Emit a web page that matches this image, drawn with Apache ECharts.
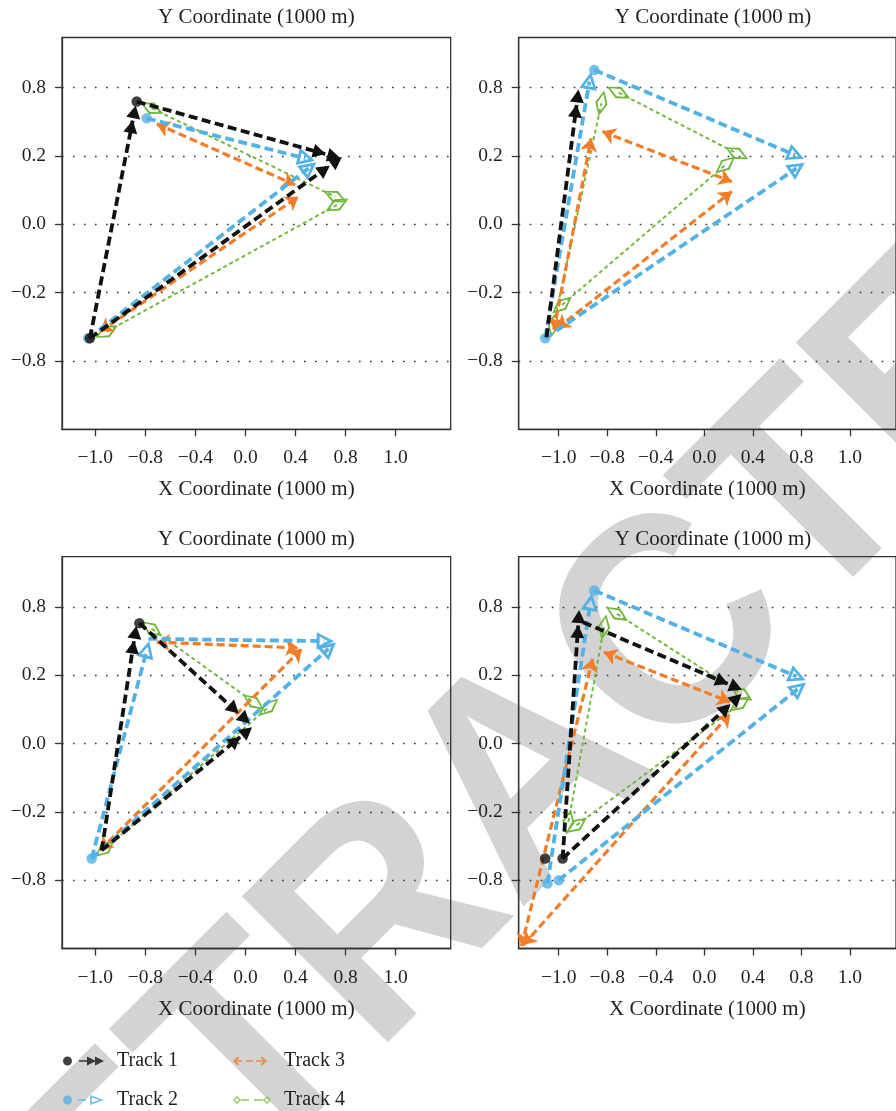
<!DOCTYPE html>
<html><head><meta charset="utf-8">
<script src="https://cdn.jsdelivr.net/npm/echarts@6/dist/echarts.min.js"></script>
<style>html,body{margin:0;padding:0;background:#fff}#c{width:896px;height:1111px}</style>
</head><body><div id="c"></div>
<script>
// ---------- axis ticks ----------
const xTickValues = [-1.2, -0.8, -0.4, 0, 0.4, 0.8, 1.2];
const xTickLabels = ['−1.0', '−0.8', '−0.4', '0.0', '0.4', '0.8', '1.0'];
const yTickValues = [-0.8, -0.4, 0, 0.4, 0.8];
const yTickLabels = ['−0.8', '−0.2', '0.0', '0.2', '0.8'];
const trackNames = ['Track 1', 'Track 2', 'Track 3', 'Track 4'];

// ---------- data: segments [x1, y1, x2, y2] and start dots [x, y] ----------
// Panel 1 (top left)
const p1Track1 = [[-1.243,-0.667,-0.901,0.607],[-0.869,0.719,0.637,0.412],[-1.243,-0.667,0.670,0.342]];
const p1Track1Dots = [[-1.243,-0.667],[-0.869,0.719]];
const p1Track2 = [[-0.789,0.621,0.478,0.387],[-1.256,-0.667,0.504,0.328]];
const p1Track2Dots = [[-0.789,0.621],[-1.256,-0.667]];
const p1Track3 = [[-0.709,0.588,0.397,0.231],[-1.163,-0.628,0.424,0.162]];
const p1Track4 = [[-0.749,0.680,0.717,0.162],[-1.109,-0.628,0.731,0.114]];
// Panel 2 (top right)
const p2Track1 = [[-1.301,-0.661,-1.053,0.699]];
const p2Track1Dots = [];
const p2Track2 = [[-1.312,-0.667,-0.947,0.836],[-0.907,0.904,0.747,0.406],[-1.312,-0.667,0.760,0.328]];
const p2Track2Dots = [[-1.312,-0.667],[-0.907,0.904]];
const p2Track3 = [[-1.240,-0.618,-0.933,0.504],[-0.840,0.543,0.227,0.250],[-1.213,-0.609,0.227,0.192]];
const p2Track4 = [[-1.243,-0.589,-0.848,0.709],[-0.707,0.771,0.267,0.416],[-1.173,-0.472,0.173,0.348]];
// Panel 3 (bottom left)
const p3Track1 = [[-1.149,-0.625,-0.891,0.599],[-0.848,0.705,-0.056,0.178],[-1.149,-0.625,-0.043,0.038]];
const p3Track1Dots = [[-0.848,0.705]];
const p3Track2 = [[-1.229,-0.673,-0.789,0.545],[-0.776,0.613,0.630,0.600],[-1.229,-0.673,0.664,0.555]];
const p3Track2Dots = [[-1.229,-0.673]];
const p3Track3 = [[-0.709,0.594,0.424,0.560],[-1.163,-0.625,0.451,0.555]];
const p3Track4 = [[-0.749,0.672,0.064,0.243],[-1.123,-0.615,0.184,0.213]];
// Panel 4 (bottom right)
const p4Track1 = [[-1.168,-0.673,-1.040,0.691],[-1.000,0.710,0.192,0.350],[-1.168,-0.673,0.213,0.229]];
const p4Track1Dots = [[-1.312,-0.673],[-1.168,-0.673]];
const p4Track2 = [[-1.293,-0.819,-0.939,0.822],[-0.907,0.896,0.760,0.393],[-1.200,-0.800,0.774,0.321]];
const p4Track2Dots = [[-1.293,-0.819],[-1.200,-0.800],[-0.907,0.896]];
const p4Track3 = [[-1.507,-1.186,-0.920,0.496],[-0.827,0.535,0.213,0.243],[-1.493,-1.180,0.213,0.175]];
const p4Track4 = [[-1.120,-0.459,-0.827,0.681],[-0.720,0.759,0.307,0.291],[-1.053,-0.478,0.293,0.233]];

const panels = [
  {t1: p1Track1, d1: p1Track1Dots, t2: p1Track2, d2: p1Track2Dots, t3: p1Track3, t4: p1Track4},
  {t1: p2Track1, d1: p2Track1Dots, t2: p2Track2, d2: p2Track2Dots, t3: p2Track3, t4: p2Track4},
  {t1: p3Track1, d1: p3Track1Dots, t2: p3Track2, d2: p3Track2Dots, t3: p3Track3, t4: p3Track4},
  {t1: p4Track1, d1: p4Track1Dots, t2: p4Track2, d2: p4Track2Dots, t3: p4Track3, t4: p4Track4}
];

// ---------- styles ----------
const FONT = '"Liberation Serif", "Times New Roman", serif';
const TXT = '#231f20';
const AX = '#333333';
const COLORS = ['#111111', '#52b2e6', '#f27d28', '#70b63a'];

const PAD = (s) => `M${-s},${-s}L${-s},${-s}M${s},${s}L${s},${s}`;
const SYM_DOUBLE = 'path://' + PAD(15) + 'M0,-15L6.8,-2.5L-6.8,-2.5ZM0,-0.5L6.8,12L-6.8,12Z';
const SYM_OPENTRI = 'path://' + PAD(10) + 'M0,-9L8,7L-8,7ZM0,-3.2L-4.1,4.3L4.1,4.3Z';
const SYM_DIAMOND = 'path://' + PAD(14) + 'M0,-13L6.3,0L0,13L-6.3,0ZM0,-9.4L-4.1,0L0,9.4L4.1,0Z';

const ICON1 = 'path://M0,0L0,0M42,12L42,12M1,6A4.5,4.5 0 1,0 10,6A4.5,4.5 0 1,0 1,6ZM17,5.2L27,5.2L27,6.8L17,6.8ZM25,1.5L34,6L25,10.5ZM33,1.5L42,6L33,10.5Z';
const ICON2 = 'path://M0,0L0,0M42,12L42,12M1,6A4.5,4.5 0 1,0 10,6A4.5,4.5 0 1,0 1,6ZM16,5.2L24,5.2L24,6.8L16,6.8ZM28,1L42,6L28,11ZM29.8,3.6L29.8,8.4L37,6Z';
const ICON3 = 'path://M0,0L0,0M38,12L38,12M0,6L5,1.5L6.3,2.8L3.1,6L6.3,9.2L5,10.5ZM1.5,5.3L9,5.3L9,6.7L1.5,6.7ZM13,5.3L20,5.3L20,6.7L13,6.7ZM23,5.3L32.5,5.3L32.5,6.7L23,6.7ZM34,6L29,10.5L27.7,9.2L30.9,6L27.7,2.8L29,1.5Z';
const ICON4 = 'path://M0,0L0,0M38,12L38,12M0,6L4,2L8,6L4,10ZM1.8,6L4,8.2L6.2,6L4,3.8ZM8,5.3L16,5.3L16,6.7L8,6.7ZM21,5.3L30,5.3L30,6.7L21,6.7ZM30,6L34,2L38,6L34,10ZM31.8,6L34,8.2L36.2,6L34,3.8Z';

// ---------- layout ----------
const gridBoxes = [
  {left: 62, top: 37.5, titleTop: 7, xmin: -1.466, xmax: 1.64},
  {left: 518.7, top: 37.5, titleTop: 7, xmin: -1.53, xmax: 1.58},
  {left: 62, top: 556.7, titleTop: 528.5, xmin: -1.466, xmax: 1.64},
  {left: 518.7, top: 556.7, titleTop: 528.5, xmin: -1.53, xmax: 1.58}
];
const GW = 388.7, GH = 391.8;

const labelOf = (vals, labels) => (v) => {
  const i = vals.findIndex(t => Math.abs(t - v) < 1e-6);
  return i >= 0 ? labels[i] : '';
};

const grids = [], xAxes = [], yAxes = [], titles = [];
gridBoxes.forEach((g, i) => {
  grids.push({left: g.left, top: g.top, width: GW, height: GH, show: true,
    borderColor: AX, borderWidth: 1.3, backgroundColor: 'transparent', containLabel: false});
  xAxes.push({type: 'value', gridIndex: i, min: g.xmin, max: g.xmax,
    name: 'X Coordinate (1000 m)', nameLocation: 'middle', nameGap: 50,
    nameTextStyle: {fontFamily: FONT, fontSize: 21, color: TXT},
    axisLine: {show: true, onZero: false, lineStyle: {color: AX, width: 1.3}},
    axisTick: {show: true, inside: false, length: 7, customValues: xTickValues, lineStyle: {color: AX, width: 1.3}},
    axisLabel: {customValues: xTickValues, formatter: labelOf(xTickValues, xTickLabels),
      margin: 19, fontFamily: FONT, fontSize: 19.5, color: TXT},
    splitLine: {show: false}});
  yAxes.push({type: 'value', gridIndex: i, min: -1.2, max: 1.094,
    axisLine: {show: true, onZero: false, lineStyle: {color: AX, width: 1.3}},
    axisTick: {show: true, inside: false, length: 7, customValues: yTickValues, lineStyle: {color: AX, width: 1.3}},
    axisLabel: {customValues: yTickValues, formatter: labelOf(yTickValues, yTickLabels),
      margin: 16, fontFamily: FONT, fontSize: 19.5, color: TXT},
    splitLine: {show: true, lineStyle: {color: '#333', width: 1.3, type: [1.6, 9.4]}}});
  titles.push({text: 'Y Coordinate (1000 m)', left: g.left + GW / 2, top: g.titleTop,
    textAlign: 'center', padding: 0,
    textStyle: {fontFamily: FONT, fontSize: 21, fontWeight: 'normal', color: TXT}});
});

// ---------- series ----------
const series = [];
trackNames.forEach((n, k) => series.push({type: 'scatter', name: n, data: [], xAxisIndex: 0, yAxisIndex: 0,
  itemStyle: {color: COLORS[k]}}));

const segData = (segs) => segs.map(s => ({coords: [[s[0], s[1]], [s[2], s[3]]]}));
const linesSeries = (name, segs, gi, color, width, dash, symbol, symbolSize, z) => ({
  type: 'lines', name, coordinateSystem: 'cartesian2d', xAxisIndex: gi, yAxisIndex: gi,
  data: segData(segs), symbol, symbolSize, z, silent: true,
  lineStyle: {color, width, type: dash, opacity: 1, curveness: 0}
});
const dotSeries = (name, dots, gi, color, z) => ({
  type: 'scatter', name, xAxisIndex: gi, yAxisIndex: gi, data: dots,
  symbol: 'circle', symbolSize: 10.5, itemStyle: {color}, z, silent: true
});

panels.forEach((p, gi) => {
  series.push(linesSeries('Track 4', p.t4, gi, COLORS[3], 1.9, [4, 3], [SYM_DIAMOND, SYM_DIAMOND], [28, 28], 2));
  series.push(linesSeries('Track 3', p.t3, gi, COLORS[2], 3.2, [8, 4], ['arrow', 'arrow'], [13, 13], 3));
  series.push(linesSeries('Track 2', p.t2, gi, COLORS[1], 3.8, [9, 4.5], ['none', SYM_OPENTRI], [10, 22], 4));
  series.push(dotSeries('Track 2', p.d2, gi, COLORS[1], 4));
  series.push(linesSeries('Track 1', p.t1, gi, COLORS[0], 3.8, [9, 4.5], ['none', SYM_DOUBLE], [10, 31], 5));
  series.push(dotSeries('Track 1', p.d1, gi, COLORS[0], 5));
});

const legendText = {fontFamily: FONT, fontSize: 20, color: TXT, padding: [0, 0, 0, 8]};
const option = {
  animation: false,
  backgroundColor: '#ffffff',
  title: titles,
  grid: grids,
  xAxis: xAxes,
  yAxis: yAxes,
  legend: [
    {orient: 'vertical', left: 62, top: 1051, itemWidth: 42, itemHeight: 12, itemGap: 19, padding: 0,
      selectedMode: false, textStyle: legendText,
      data: [{name: 'Track 1', icon: ICON1}, {name: 'Track 2', icon: ICON2}]},
    {orient: 'vertical', left: 233, top: 1051, itemWidth: 38, itemHeight: 12, itemGap: 19, padding: 0,
      selectedMode: false, textStyle: legendText,
      data: [{name: 'Track 3', icon: ICON3}, {name: 'Track 4', icon: ICON4}]}
  ],
  graphic: [{type: 'text', z: -10, silent: true, x: 532, y: 781, rotation: 45 * Math.PI / 180,
    scaleX: 0.94, scaleY: 1,
    style: {text: 'RETRACTED', fontFamily: '"Liberation Sans", Arial, sans-serif', fontWeight: 'bold',
      fontSize: 300, fill: '#d3d3d3', align: 'center', verticalAlign: 'middle'}}],
  series
};
const chart = echarts.init(document.getElementById('c'), null, {renderer: 'canvas'});
chart.setOption(option);
</script>
</body></html>
